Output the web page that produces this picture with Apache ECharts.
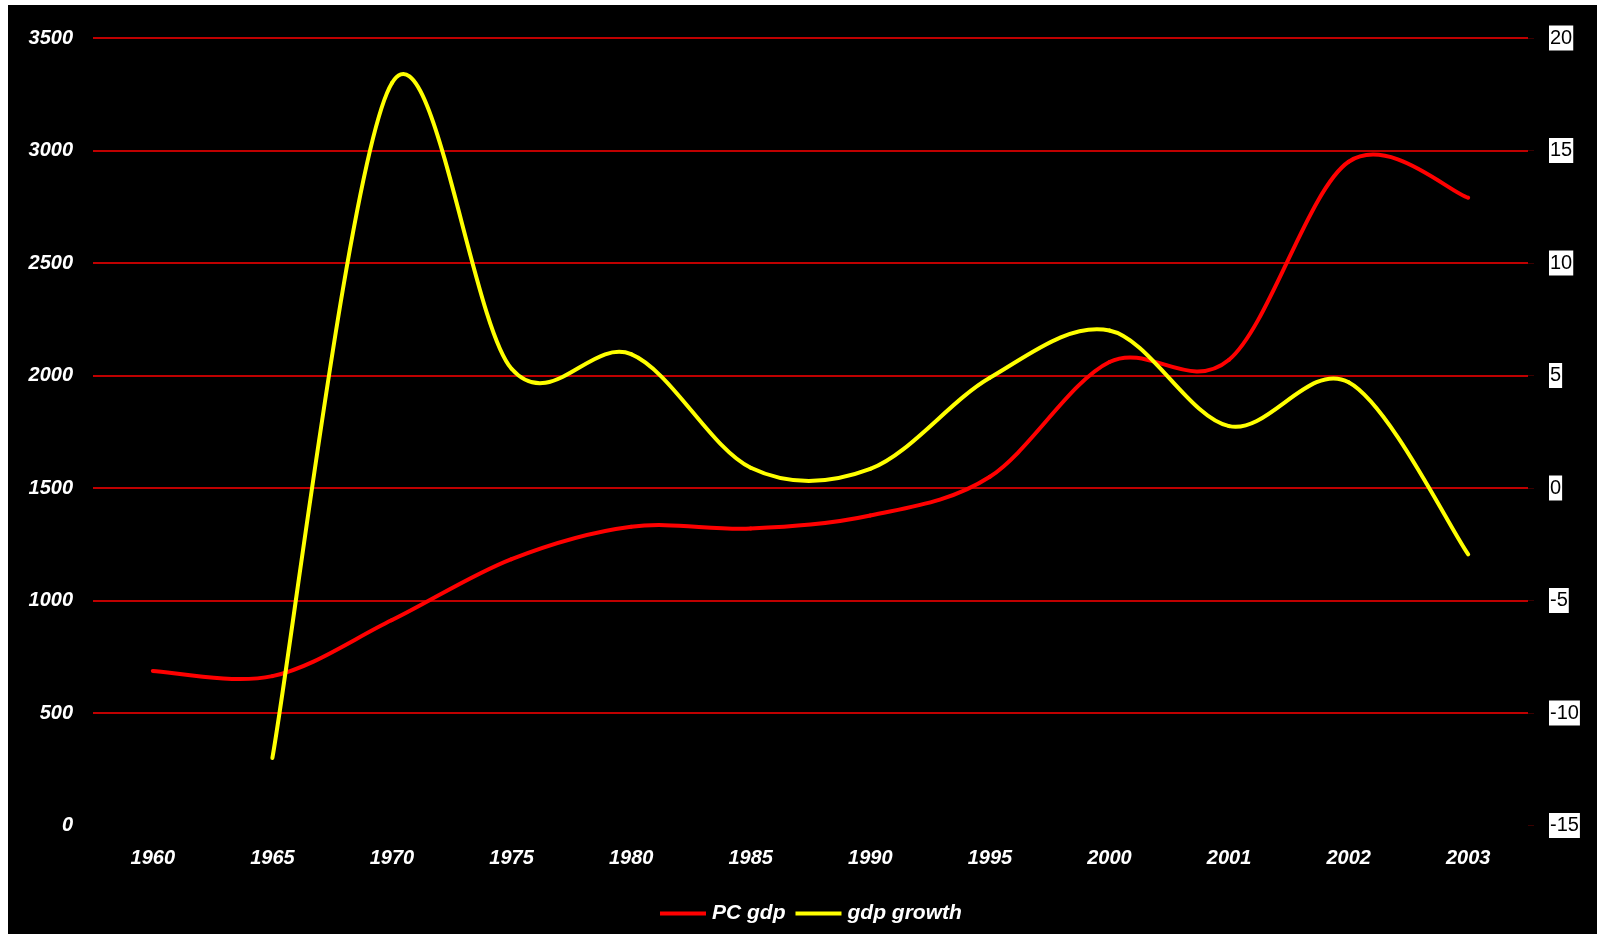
<!DOCTYPE html>
<html>
<head>
<meta charset="utf-8">
<script src="https://cdn.jsdelivr.net/npm/echarts@6/dist/echarts.min.js"></script>
<style>
  html, body { margin: 0; padding: 0; background: #ffffff; }
  #chart { position: absolute; left: 8px; top: 5px; width: 1589px; height: 929px; }
</style>
</head>
<body>
<div id="chart"></div>
<script>
// Category labels (x axis)
const years = ['1960', '1965', '1970', '1975', '1980', '1985', '1990', '1995', '2000', '2001', '2002', '2003'];
// Per-capita GDP (left axis)
const pcGdp = [687, 664, 913, 1184, 1328, 1320, 1378, 1550, 2060, 2070, 2950, 2790];
// GDP growth, % (right axis); no value before 1965
const gdpGrowth = [null, -12, 18.0, 5.3, 5.95, 0.9, 0.85, 4.9, 7.0, 2.75, 4.7, -2.95];

const FONT = '"Liberation Sans", Arial, sans-serif';

function toPairs(values) {
  return values.map((v, i) => [i, v]).filter(d => d[1] !== null && d[1] !== undefined);
}

// Smooth curve through the points: each item draws the cubic segment
// that ends at it (Catmull-Rom tangents converted to Bezier controls).
function makeSplineRenderer(color) {
  return function (params, api) {
    const j = params.dataIndexInside;
    const n = params.dataInsideLength;
    if (j < 1) return null;
    const pt = k => {
      k = Math.max(0, Math.min(n - 1, k));
      return api.coord([api.value(0, k), api.value(1, k)]);
    };
    const p0 = pt(j - 2), p1 = pt(j - 1), p2 = pt(j), p3 = pt(j + 1);
    return {
      type: 'bezierCurve',
      shape: {
        x1: p1[0], y1: p1[1],
        x2: p2[0], y2: p2[1],
        cpx1: p1[0] + (p2[0] - p0[0]) / 6,
        cpy1: p1[1] + (p2[1] - p0[1]) / 6,
        cpx2: p2[0] - (p3[0] - p1[0]) / 6,
        cpy2: p2[1] - (p3[1] - p1[1]) / 6
      },
      style: { stroke: color, lineWidth: 4, fill: null, lineCap: 'round', lineJoin: 'round' }
    };
  };
}

const chart = echarts.init(document.getElementById('chart'));
const redGrid = '#ff0000';

chart.setOption({
  animation: false,
  backgroundColor: '#000000',
  grid: { left: 85, right: 69, top: 33, bottom: 108.5, containLabel: false },
  legend: {
    left: 647,
    top: 893,
    icon: 'rect',
    itemWidth: 46,
    itemHeight: 4,
    itemGap: 10,
    textStyle: { color: '#ffffff', fontFamily: FONT, fontSize: 21, fontWeight: 'bold', fontStyle: 'italic', padding: [0, 0, 0, 1] },
    data: ['PC gdp', 'gdp growth']
  },
  xAxis: {
    type: 'category',
    data: years,
    boundaryGap: true,
    axisLine: { show: false },
    axisTick: { show: false },
    axisLabel: {
      interval: 0,
      margin: 23,
      color: '#ffffff',
      fontFamily: FONT,
      fontSize: 20,
      fontWeight: 'bold',
      fontStyle: 'italic'
    },
    splitLine: { show: false }
  },
  yAxis: [
    {
      type: 'value',
      min: 0,
      max: 3500,
      interval: 500,
      position: 'left',
      axisLine: { show: false },
      axisTick: { show: false },
      axisLabel: {
        margin: 20,
        formatter: v => String(v),
        color: '#ffffff',
        fontFamily: FONT,
        fontSize: 20,
        fontWeight: 'bold',
        fontStyle: 'italic'
      },
      splitLine: {
        show: true,
        lineStyle: {
          color: ['rgba(0,0,0,0)', redGrid, redGrid, redGrid, redGrid, redGrid, redGrid, redGrid],
          width: 1.5
        }
      }
    },
    {
      type: 'value',
      min: -15,
      max: 20,
      interval: 5,
      position: 'right',
      axisLine: { show: false },
      axisTick: { show: true, length: 6, lineStyle: { color: '#3a0000', width: 1 } },
      axisLabel: {
        margin: 21,
        formatter: v => String(v),
        color: '#000000',
        backgroundColor: '#ffffff',
        padding: [3, 1, 2, 1],
        fontFamily: FONT,
        fontSize: 20
      },
      splitLine: { show: false }
    }
  ],
  series: [
    {
      name: 'PC gdp',
      type: 'custom',
      xAxisIndex: 0,
      yAxisIndex: 0,
      itemStyle: { color: '#ff0000' },
      encode: { x: 0, y: 1 },
      data: toPairs(pcGdp),
      renderItem: makeSplineRenderer('#ff0000'),
      z: 3
    },
    {
      name: 'gdp growth',
      type: 'custom',
      xAxisIndex: 0,
      yAxisIndex: 1,
      itemStyle: { color: '#ffff00' },
      encode: { x: 0, y: 1 },
      data: toPairs(gdpGrowth),
      renderItem: makeSplineRenderer('#ffff00'),
      z: 4
    }
  ]
});
</script>
</body>
</html>
